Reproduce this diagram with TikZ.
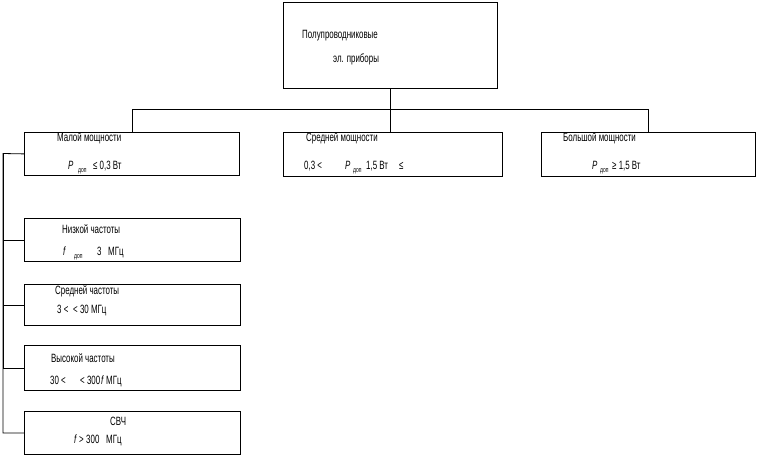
\documentclass[tikz,border=0pt]{standalone}
\usepackage{fontspec}
\setmainfont[FakeStretch=0.66]{Liberation Sans}
\usepackage{tikz}
\usetikzlibrary{shapes,positioning}
\tikzstyle{block} = [draw, rectangle, line width=0.8pt, inner sep=0pt, anchor=north west]
\tikzstyle{line} = [draw, line width=0.8pt]
\tikzstyle{txt} = [anchor=base west, inner sep=0pt, font=\fontsize{12}{14}\selectfont]
\tikzstyle{sub} = [anchor=base west, inner sep=0pt, font=\fontsize{7.5}{8}\selectfont]
\begin{document}
\begin{tikzpicture}[x=1pt, y=-1pt]
	\useasboundingbox (0,0) rectangle (757,461);
	% Place nodes
	\node [block, minimum width=214pt, minimum height=86pt] (top) at (283,2) {};
	\node [block, minimum width=215pt, minimum height=43pt] (p1) at (24,132) {};
	\node [block, minimum width=219pt, minimum height=44pt] (p2) at (283,132) {};
	\node [block, minimum width=214pt, minimum height=44pt] (p3) at (541,132) {};
	\node [block, minimum width=216pt, minimum height=43pt] (f1) at (24,218) {};
	\node [block, minimum width=216pt, minimum height=41pt] (f2) at (24,284) {};
	\node [block, minimum width=216pt, minimum height=45pt] (f3) at (24,345) {};
	\node [block, minimum width=216pt, minimum height=43pt] (f4) at (24,411) {};
	\coordinate (j) at (top.south |- 0,109);
	\coordinate (l0) at (3,153.5);
	
	% Texts
	\node [txt] (t1) at (302,38) {Полупроводниковые};
	\node [txt] (t2) at (333,62) {эл. приборы};
	
	\node [txt] (a1) at (57,141) {Малой мощности};
	\node [txt] (a2) at (68,169) {\itshape P};
	\node [sub] (a3) at (78,172) {доп};
	\node [txt] (a4) at (93,169) {≤ 0,3 Вт};
	
	\node [txt] (b1) at (306,141) {Средней мощности};
	\node [txt] (b2) at (304,169) {0,3 <};
	\node [txt] (b3) at (345,169) {\itshape P};
	\node [sub] (b4) at (353,172) {доп};
	\node [txt] (b5) at (366,169) {1,5 Вт};
	\node [txt] (b6) at (399,169) {≤};
	
	\node [txt] (c1) at (563,141) {Большой мощности};
	\node [txt] (c2) at (592,169) {\itshape P};
	\node [sub] (c3) at (600,172) {доп};
	\node [txt] (c4) at (612,169) {≥ 1,5 Вт};
	
	\node [txt] (d1) at (62,233) {Низкой частоты};
	\node [txt] (d2) at (63,255) {\itshape f};
	\node [sub] (d3) at (74,258) {доп};
	\node [txt] (d4) at (97,255) {3};
	\node [txt] (d5) at (108,255) {МГц};
	
	\node [txt] (e1) at (55,294) {Средней частоты};
	\node [txt] (e2) at (57,313) {3 <};
	\node [txt] (e3) at (73,313) {< 30 МГц};
	
	\node [txt] (g1) at (51,362) {Высокой частоты};
	\node [txt] (g2) at (50,384) {30 <};
	\node [txt] (g3) at (80,384) {< 300};
	\node [txt] (g4) at (101,384) {\itshape f};
	\node [txt] (g5) at (106,384) {МГц};
	
	\node [txt] (h1) at (110,425) {СВЧ};
	\node [txt] (h2) at (74,443) {\itshape f};
	\node [txt] (h3) at (79,443) {>};
	\node [txt] (h4) at (86,443) {300};
	\node [txt] (h5) at (106,443) {МГц};
	
	% Connectors
	\path [line] (top.south) -- (j);
	\path [line] (j) -| (p1.north);
	\path [line] (j) -| (p3.north);
	\path [line] (j) -- (j |- p2.north);
	\path [line] (p1.west) -- (l0) |- (f4.west);
	\path [line] (l0) |- (f1.west);
	\path [line] (l0) |- (f2.west);
	\path [line] (l0) |- (f3.west);
\end{tikzpicture}
\end{document}
